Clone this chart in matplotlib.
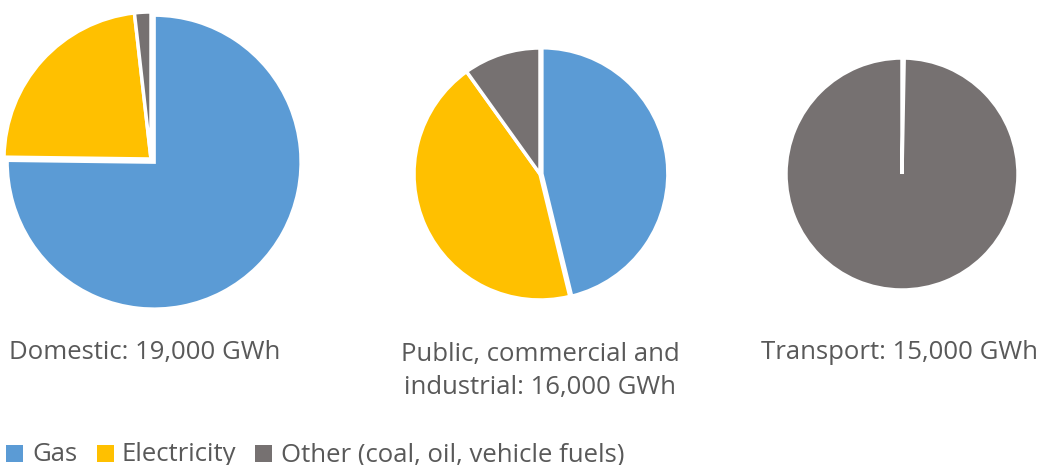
import matplotlib
matplotlib.use("Agg")
import matplotlib.pyplot as plt
from matplotlib.patches import Rectangle

categories = ["Gas", "Electricity", "Other (coal, oil, vehicle fuels)"]
colors = ["#5B9BD5", "#FFC000", "#767171"]

sectors = ["Domestic: 19,000 GWh", "Public, commercial and\nindustrial: 16,000 GWh", "Transport: 15,000 GWh"]
domestic = [75.2, 23.0, 1.8]
public = [46.2, 43.9, 9.9]
transport = [0.15, 0.15, 99.7]

W, H = 1041, 465
fig = plt.figure(figsize=(W / 100, H / 100), dpi=100)
plt.rcParams['font.family'] = ['Open Sans', 'DejaVu Sans']
TXT = "#595959"

def pie_axes(cx, cy, r, values, explode):
    pad = 1.15
    ax = fig.add_axes([(cx - pad * r) / W, 1 - (cy + pad * r) / H, 2 * pad * r / W, 2 * pad * r / H])
    ax.pie(values, colors=colors, startangle=90, counterclock=False, explode=explode,
           wedgeprops=dict(edgecolor="white", linewidth=2.5))
    ax.set_xlim(-pad, pad)
    ax.set_ylim(-pad, pad)
    ax.set_aspect("equal")
    ax.axis("off")
    return ax

pie_axes(151, 159, 147, domestic, [0.03, 0, 0])
pie_axes(540, 174, 126, public, [0.015, 0, 0])
pie_axes(902, 174, 116, transport, [0, 0, 0])

fs = 18.5
fig.text(9 / W, 1 - 359 / H, sectors[0], fontsize=fs, color=TXT, ha="left", va="baseline")
fig.text(540 / W, 1 - 394 / H, sectors[1], fontsize=fs, color=TXT, ha="center", va="baseline",
         linespacing=1.4, multialignment="center")
fig.text(1038 / W, 1 - 359 / H, sectors[2], fontsize=fs, color=TXT, ha="right", va="baseline")

# legend drawn manually
sq_x = [6, 97, 255]
tx_x = [32, 122, 281]
for c, lab, sx, tx in zip(colors, categories, sq_x, tx_x):
    fig.add_artist(Rectangle((sx / W, 1 - 462 / H), 17 / W, 17 / H, transform=fig.transFigure,
                             facecolor=c, edgecolor="none"))
    fig.text(tx / W, 1 - 461 / H, lab, fontsize=fs, color=TXT, ha="left", va="baseline")

fig.savefig("out.png", dpi=100)
